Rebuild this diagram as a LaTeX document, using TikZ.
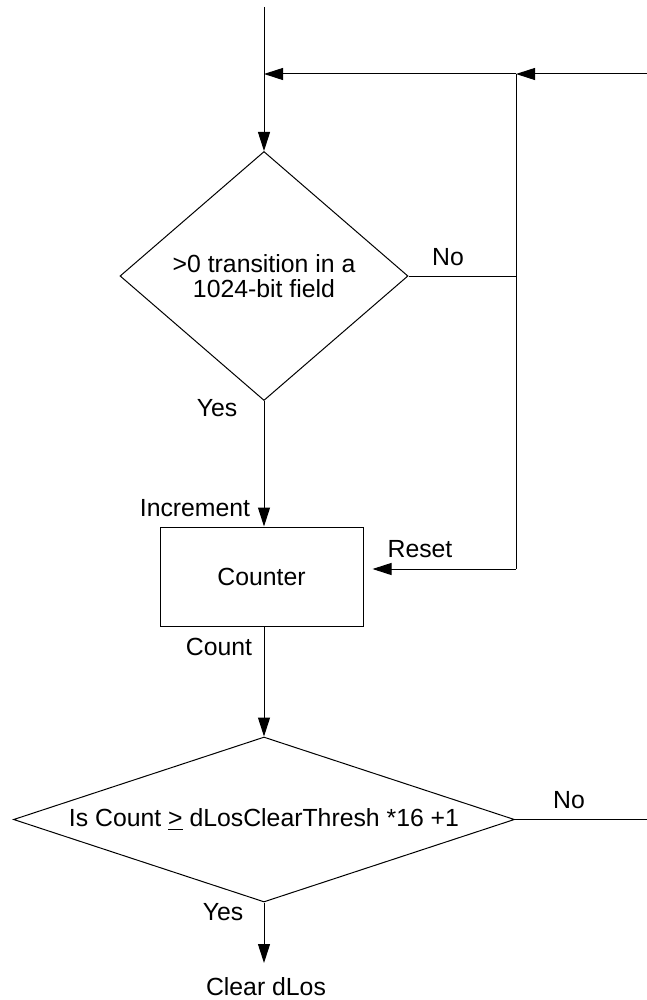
\documentclass[tikz,border=0pt]{standalone}
\usepackage{fontspec}
\setmainfont{Liberation Sans}
\usetikzlibrary{arrows.meta,shapes.geometric}
\begin{document}
\begin{tikzpicture}[x=0.5pt,y=-0.5pt,
  line width=0.5pt,
  every node/.style={font=\fontsize{12.4}{12.5}\selectfont},
  tip/.style={-{Triangle[length=9.5pt,width=6pt]}},
  dec/.style={draw, shape=diamond, inner sep=0pt, align=center},
  lbl/.style={inner sep=0pt}]
\useasboundingbox (0,0) rectangle (647,1000);
% junction coordinates
\coordinate (start) at (264,7);
\coordinate (jt) at (264,74);
\coordinate (jr) at (516,74);
\coordinate (inR) at (647,74);
\coordinate (rs) at (516,569);
\coordinate (outR) at (647,819.5);
\coordinate (fin) at (264,963);
% shapes
\node[dec, minimum width=144pt, minimum height=124.5pt, aspect=1.157] (d1) at (264,276) {>0 transition in a\\1024-bit field};
\node[draw, minimum width=101.5pt, minimum height=49.5pt] (ctr) at (261.5,576.5) {Counter};
\node[dec, minimum width=250.5pt, minimum height=82.5pt, aspect=3.04] (d2) at (264,819.5) {Is Count \underline{>} dLosClearThresh *16 +1};
% connectors
\draw[tip] (start) -- (d1.north);
\draw[tip] (jr) -- (jt);
\draw[tip] (inR) -- (jr);
\draw (d1.east) -- (d1.east -| jr);
\draw (jr) -- (rs);
\draw[tip, shorten >=4.5pt] (rs) -- (ctr.east |- rs);
\draw[tip] (d1.south) -- (d1.south |- ctr.north);
\draw[tip] (d1.south |- ctr.south) -- (d2.north);
\draw (d2.east) -- (outR);
\draw[tip] (d2.south) -- (fin);
% labels
\node[lbl] (no1) at (448,257) {No};
\node[lbl] (yes1) at (217,408) {Yes};
\node[lbl] (inc) at (195,508) {Increment};
\node[lbl] (rst) at (420,549) {Reset};
\node[lbl] (cnt) at (219,647) {Count};
\node[lbl] (no2) at (569,800) {No};
\node[lbl] (yes2) at (223,912) {Yes};
\node[lbl, anchor=base] (clr) at (266,995) {Clear dLos};
\end{tikzpicture}
\end{document}
